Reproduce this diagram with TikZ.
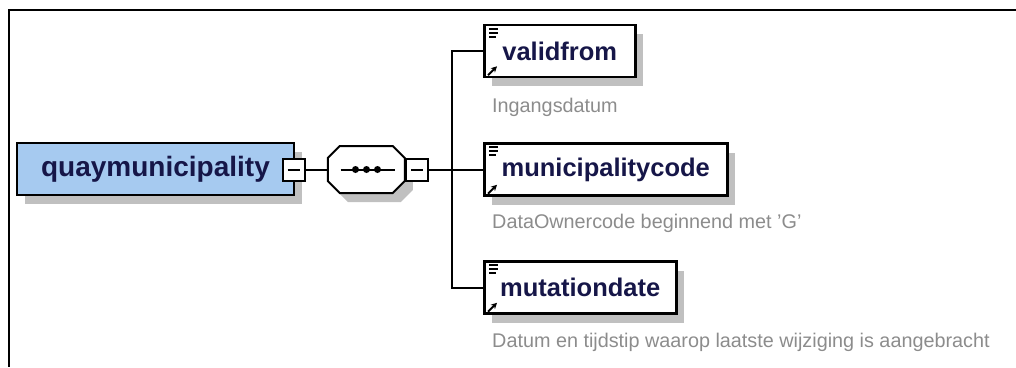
\documentclass[tikz,border=0pt]{standalone}
\usepackage{fontspec}
\setmainfont{Liberation Sans}
\usetikzlibrary{shadows,arrows.meta}
\definecolor{elemblue}{RGB}{166,202,240}
\definecolor{elemtext}{RGB}{22,22,72}
\definecolor{shadowgrey}{RGB}{192,192,192}
\definecolor{doctext}{RGB}{140,140,140}

\begin{document}
\begin{tikzpicture}[x=1pt,y=-1pt]
\tikzstyle{shadowed}=[drop shadow={shadow xshift=8pt,shadow yshift=-9pt,fill=shadowgrey,opacity=1}]
\tikzstyle{elem}=[rectangle,draw,line width=2.5pt,fill=white,shadowed,minimum height=52pt,inner sep=0pt,font=\fontsize{25.5}{30}\selectfont\bfseries,text=elemtext]
\tikzstyle{toggle}=[rectangle,draw,line width=2pt,fill=white,minimum size=22pt,inner sep=0pt]
\tikzstyle{doc}=[anchor=west,inner sep=0pt,font=\fontsize{19.8}{24}\selectfont,text=doctext]
\tikzstyle{wire}=[line width=2pt]
\useasboundingbox (0,0) rectangle (1016,367);
\draw[line width=2.5pt] (1016,10) -- (9,10) -- (9,367);
% root element and sequence
\node[elem,fill=elemblue,minimum width=277pt,font=\fontsize{28}{32}\selectfont\bfseries] (quay) at (155.5,169) {quaymunicipality};
\node[minimum width=77pt,minimum height=47pt,inner sep=0pt] (seq) at (366.5,169.5) {};
\filldraw[wire,fill=white,shadowed] (seq.west) -- ++(0,-11.5) -- ++(12,-12) -- ++(53,0) -- ++(12,12)
  -- ++(0,23) -- ++(-12,12) -- ++(-53,0) -- ++(-12,-12) -- cycle;
\node[toggle] (quayminus) at (293.5,169.5) {};
\node[toggle] (seqminus) at (417,169.5) {};
\coordinate (bus) at (452,169.5);
% child elements
\node[elem,anchor=west,minimum width=151pt] (validfrom) at (483,51) {validfrom};
\node[elem,anchor=west,minimum width=243pt] (municipalitycode) at (483,169.5) {municipalitycode};
\node[elem,anchor=west,minimum width=192pt] (mutationdate) at (483,287.5) {mutationdate};
\node[doc] (validfromdoc) at (492,107) {Ingangsdatum};
\node[doc] (municipalitycodedoc) at (492,223) {DataOwnercode beginnend met 'G'};
\node[doc] (mutationdatedoc) at (492,342) {Datum en tijdstip waarop laatste wijziging is aangebracht};
% connectors
\draw[wire] (quayminus.east) -- (seq.west);
\draw[wire] (seqminus.east) -- (bus);
\draw[wire] (validfrom.west) -| (bus) |- (mutationdate.west);
\draw[wire] (bus) -- (municipalitycode.west);
\foreach \t in {quayminus,seqminus}
  \draw[line width=2pt] ([xshift=-6pt]\t.center) -- ([xshift=6pt]\t.center);
\draw[wire] ([xshift=-26pt]seq.center) -- ([xshift=28pt]seq.center);
\foreach \dx in {-11,0,11}
  \fill ([xshift=\dx pt]seq.center) circle (3.5pt);
\foreach \n in {validfrom,municipalitycode,mutationdate}{
  \draw[line width=1.8pt,shift={(\n.north west)}] (6,5) -- (15,5) (6,9) -- (15,9) (6,13) -- (13,13);
  \draw[line width=1.8pt,-{Stealth[length=6pt,width=6pt]},shift={(\n.south west)}] (5,-3) -- (14,-12);
}
\end{tikzpicture}
\end{document}
